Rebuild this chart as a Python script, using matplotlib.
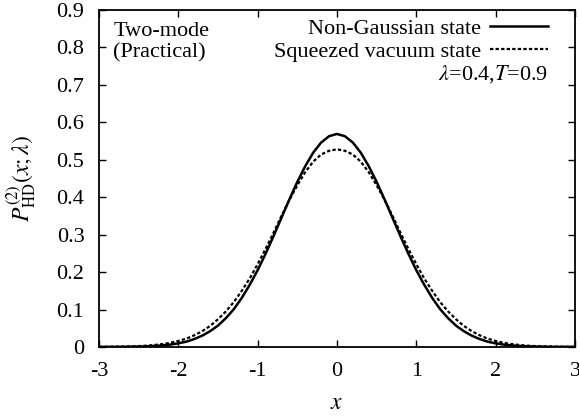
import numpy as np
import matplotlib
matplotlib.use("Agg")
from matplotlib import pyplot as plt

# values (curves are symmetric about x=0)
x_half = [0.0, 0.1, 0.2, 0.3, 0.4, 0.5, 0.6, 0.7, 0.8, 0.9, 1.0,
          1.1, 1.2, 1.3, 1.4, 1.5, 1.6, 1.7, 1.8, 1.9, 2.0,
          2.1, 2.2, 2.3, 2.4, 2.5, 2.6, 2.7, 2.8, 2.9, 3.0]
non_gauss_half = [0.569, 0.563, 0.546, 0.519, 0.483, 0.441, 0.394, 0.345, 0.296, 0.249, 0.205,
                  0.166, 0.131, 0.101, 0.077, 0.057, 0.042, 0.030, 0.021, 0.014, 0.0096,
                  0.0063, 0.0041, 0.0026, 0.0016, 0.0010, 0.0006, 0.0003, 0.0002, 0.0001, 0.0001]
squeezed_half = [0.528, 0.524, 0.514, 0.495, 0.467, 0.432, 0.393, 0.350, 0.305, 0.262, 0.221,
                 0.183, 0.150, 0.120, 0.095, 0.074, 0.056, 0.042, 0.031, 0.022, 0.016,
                 0.011, 0.0077, 0.0052, 0.0034, 0.0022, 0.0014, 0.0009, 0.0006, 0.0003, 0.0002]

xticks = [-3, -2, -1, 0, 1, 2, 3]
yticks = [0, 0.1, 0.2, 0.3, 0.4, 0.5, 0.6, 0.7, 0.8, 0.9]

xs = np.concatenate([-np.array(x_half[:0:-1]), x_half])
ng = np.concatenate([non_gauss_half[:0:-1], non_gauss_half])
sq = np.concatenate([squeezed_half[:0:-1], squeezed_half])

plt.rcParams['font.family'] = ['Liberation Serif', 'DejaVu Serif']
plt.rcParams['mathtext.fontset'] = 'stix'

fs = 16
fig = plt.figure(figsize=(5.79, 4.19), dpi=100)
ax = fig.add_axes([0.171, 0.172, 0.822, 0.804])

ax.plot(xs, ng, color='black', lw=1.8, label='Non-Gaussian state')
ax.plot(xs, sq, color='black', lw=1.6, ls=(0, (1.5, 1.0)), label='Squeezed vacuum state')

ax.set_xlim(-3, 3)
ax.set_ylim(0, 0.9)
ax.set_xticks(xticks)
ax.set_xticklabels([str(t) for t in xticks])
ax.set_yticks(yticks)
ax.set_yticklabels(['0'] + ['%.1f' % t for t in yticks[1:]])
ax.tick_params(direction='in', top=True, right=True, length=5, width=1, labelsize=fs, pad=10.5)
for s in ax.spines.values():
    s.set_linewidth(1.3)

ax.set_xlabel('$x$', fontsize=17, labelpad=9)
ax.set_ylabel(r'$P_{\rm HD}^{(2)}(x;\lambda)$', fontsize=17, labelpad=13)

leg = ax.legend(loc='upper right', bbox_to_anchor=(0.943, 0.975), frameon=False, fontsize=fs,
                markerfirst=False, handlelength=2.6, handletextpad=0.4, borderaxespad=0,
                borderpad=0, labelspacing=0.1)
for t in leg.get_texts():
    t.set_ha('right')

ax.text(0.943, 0.81, r'$\lambda$=0.4,$T$=0.9', transform=ax.transAxes, ha='right', va='center', fontsize=fs)
ax.text(0.03, 0.965, 'Two-mode\n(Practical)', transform=ax.transAxes, ha='left', va='top',
        fontsize=fs, linespacing=1.2)

fig.savefig('out.png', dpi=100)
